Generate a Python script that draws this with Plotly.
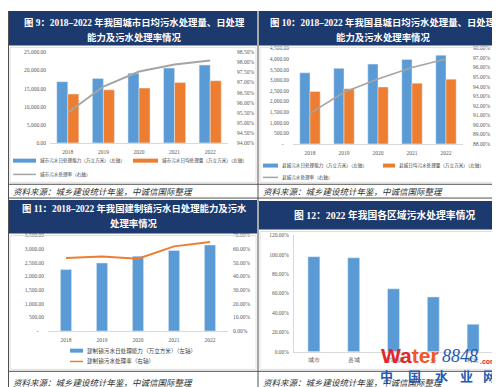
import plotly.graph_objects as go

# ---------------- data ----------------
years = ["2018", "2019", "2020", "2021", "2022"]

city_capacity = [16900, 17800, 19250, 20650, 21500]   # 城市污水日处理能力（万立方米）
city_treat = [13500, 14650, 15150, 16650, 17150]      # 城市污水日均处理量（万立方米）
city_rate = [95.5, 96.8, 97.55, 97.9, 98.1]           # 城市污水处理率 %

county_capacity = [3350, 3560, 3760, 3980, 4180]      # 县城污水日处理能力
county_treat = [2470, 2600, 2680, 2860, 3050]         # 县城日均污水处理量
county_rate = [91.2, 93.4, 94.8, 96.0, 96.9]          # 县城污水处理率 %

town_capacity = [2250, 2490, 2740, 2950, 3150]        # 建制镇污水日处理能力
town_rate = [53.5, 54.5, 52.9, 62.0, 65.2]            # 建制镇污水处理率 %

regions = ["城市", "县城", "建制镇", "乡", "村庄"]
region_rate = [98.1, 96.9, 64.9, 56.5, 28.3]          # 2022 各区域污水处理率 %

titles = [
    ["图 9：2018–2022 年我国城市日均污水处理量、日处理", "能力及污水处理率情况"],
    ["图 10：2018–2022 年我国县城日均污水处理量、日处理", "能力及污水处理率情况"],
    ["图 11：2018–2022 年我国建制镇污水日处理能力及污水", "处理率情况"],
    ["图 12：2022 年我国各区域污水处理率情况"],
]
source_text = "资料来源：城乡建设统计年鉴，中诚信国际整理"
legend1 = ["城市污水日处理能力（万立方米）（左轴）", "城市污水日均处理量（万立方米）（左轴）", "城市污水处理率（右轴）"]
legend2 = ["县城污水日处理能力（万立方米）（左轴）", "县城日均污水处理量（万立方米）（左轴）", "县城污水处理率（右轴）"]
legend3 = ["建制镇污水日处理能力（万立方米）（左轴）", "建制镇污水处理率（右轴）"]

# ---------------- helpers ----------------
W, H = 500, 387
def px(x): return x / W
def py(y): return 1 - y / H

BLUE = "#5B9BD5"; ORANGE = "#ED7D31"; GRAY = "#A5A5A5"; NAVY = "#1d3a6e"
TICKFONT = dict(family="Liberation Serif", size=5.5, color="#595959")
CJK = "Liberation Serif, Noto Sans CJK SC"

fig = go.Figure()

# panel 1
fig.add_bar(x=years, y=city_capacity, xaxis="x", yaxis="y", marker_color=BLUE, width=0.31, offset=-0.31)
fig.add_bar(x=years, y=city_treat, xaxis="x", yaxis="y", marker_color=ORANGE, width=0.31, offset=0)
fig.add_scatter(x=years, y=city_rate, xaxis="x", yaxis="y2", mode="lines", line=dict(color=GRAY, width=2))
# panel 2
fig.add_bar(x=years, y=county_capacity, xaxis="x2", yaxis="y3", marker_color=BLUE, width=0.3, offset=-0.3)
fig.add_bar(x=years, y=county_treat, xaxis="x2", yaxis="y3", marker_color=ORANGE, width=0.3, offset=0)
fig.add_scatter(x=years, y=county_rate, xaxis="x2", yaxis="y4", mode="lines", line=dict(color=GRAY, width=1.6))
# panel 3
fig.add_bar(x=years, y=town_capacity, xaxis="x3", yaxis="y5", marker_color=BLUE, width=0.31, offset=-0.155)
fig.add_scatter(x=years, y=town_rate, xaxis="x3", yaxis="y6", mode="lines", line=dict(color=ORANGE, width=2))
# panel 4
fig.add_bar(x=regions, y=region_rate, xaxis="x4", yaxis="y7", marker_color=BLUE, width=0.3, offset=-0.15)

for tr in fig.data:
    tr.showlegend = False
    tr.hoverinfo = "skip"

def xax(domain, anchor):
    return dict(domain=[px(domain[0]), px(domain[1])], anchor=anchor, type="category",
                range=[-0.5, 4.5], showgrid=False, zeroline=False, showline=True,
                linecolor="#d9d9d9", linewidth=1, ticks="", tickfont=TICKFONT,
                ticklabelstandoff=3, fixedrange=True)

def yax(domain, anchor, rng, dtick, fmt=None, suffix="", side="left", overlay=None,
        dash_zero=False, showline=False, standoff=3):
    d = dict(anchor=anchor, range=rng, dtick=dtick, showgrid=False, zeroline=False,
             ticks="", tickfont=TICKFONT, side=side, showline=showline,
             linecolor="#d9d9d9", ticklabelstandoff=standoff, fixedrange=True)
    if overlay:
        d["overlaying"] = overlay
    else:
        d["domain"] = [py(domain[0]), py(domain[1])]
    if fmt:
        d["tickformat"] = fmt
    if suffix:
        d["ticksuffix"] = suffix
    if dash_zero:
        vals = [rng[0] + i * dtick for i in range(int(round((rng[1] - rng[0]) / dtick)) + 1)]
        d["tickmode"] = "array"
        d["tickvals"] = vals
        d["ticktext"] = ["-    "] + [f"{v:,.2f}" for v in vals[1:]]
    return d

layout = dict(
    width=W, height=H, margin=dict(l=0, r=0, t=0, b=0),
    paper_bgcolor="white", plot_bgcolor="white", showlegend=False,
    barmode="overlay",
    xaxis=xax((42, 220), "y"),
    yaxis=yax((134, 42), "x", [0, 25000], 5000, fmt=",.2f"),
    yaxis2=yax(None, "x", [94, 98.5], 0.5, fmt=".2f", suffix="%", side="right", overlay="y", standoff=8),
    xaxis2=xax((285, 455), "y3"),
    yaxis3=yax((135, 38), "x2", [0, 4500], 500, dash_zero=True),
    yaxis4=yax(None, "x2", [88, 98], 1, fmt=".2f", suffix="%", side="right", overlay="y3", standoff=9),
    xaxis3=xax((40, 220), "y5"),
    yaxis5=yax((325, 228), "x3", [0, 3500], 500, dash_zero=True),
    yaxis6=yax(None, "x3", [0, 70], 10, fmt=".2f", suffix="%", side="right", overlay="y5", standoff=4),
    xaxis4=xax((286, 485), "y7"),
    yaxis7=yax((346, 228), "x4", [0, 120], 20, fmt=".2f", suffix="%", showline=True),
)
fig.update_layout(**layout)

shapes = []
annotations = []

def rect(x0, y0, x1, y1, fill=None, line=None, lw=1):
    shapes.append(dict(type="rect", xref="paper", yref="paper", x0=px(x0), x1=px(x1),
                       y0=py(y1), y1=py(y0), fillcolor=fill or "rgba(0,0,0,0)",
                       line=dict(color=line or "rgba(0,0,0,0)", width=lw if line else 0),
                       layer="above"))

def hline(x0, x1, y, color, w=1):
    shapes.append(dict(type="line", xref="paper", yref="paper", x0=px(x0), x1=px(x1),
                       y0=py(y), y1=py(y), line=dict(color=color, width=w), layer="above"))

def vline(x, y0, y1, color, w=1):
    shapes.append(dict(type="line", xref="paper", yref="paper", x0=px(x), x1=px(x),
                       y0=py(y0), y1=py(y1), line=dict(color=color, width=w), layer="above"))

def text(x, y, t, size, color="#404040", anchor="left", family=CJK, bold=False, italic=False):
    annotations.append(dict(xref="paper", yref="paper", x=px(x), y=py(y), text=t,
                            showarrow=False, xanchor=anchor, yanchor="middle",
                            font=dict(size=size, color=color, family=family,
                                      weight="bold" if bold else "normal",
                                      style="italic" if italic else "normal")))

# headers
HF = 9.4
rect(0, 0, 249, 35, fill=NAVY)
rect(251, 0, 500, 35, fill=NAVY)
rect(0, 192, 249, 226, fill=NAVY)
rect(251, 193, 500, 222, fill=NAVY)
text(126, 12, titles[0][0], HF, "white", "center", bold=True)
text(126, 27, titles[0][1], HF, "white", "center", bold=True)
text(375, 12, titles[1][0], HF, "white", "center", bold=True)
text(375, 27, titles[1][1], HF, "white", "center", bold=True)
text(126, 201, titles[2][0], HF, "white", "center", bold=True)
text(126, 216, titles[2][1], HF, "white", "center", bold=True)
text(376, 207, titles[3][0], 9.8, "white", "center", bold=True)

# chart frames (light)
rect(2, 37, 248, 174, line="#e0e0e0")
rect(252, 37, 498, 174, line="#e0e0e0")
rect(2, 228, 248, 364, line="#e0e0e0")
rect(252, 224, 498, 364, line="#e0e0e0")

# table lines
for y in (176, 190, 366, 386):
    hline(0, 500, y, "#505050", 1)
vline(0.5, 0, 387, "#505050")
vline(250, 0, 387, "#505050")
vline(499.5, 0, 387, "#505050")

# source lines
for (x, y) in ((3, 183), (253, 183), (3, 377), (253, 377)):
    text(x, y, source_text, 8.5, "#303030", "left", family="Noto Sans CJK SC", italic=True)

LF = 4.6
# legend panel 1
hline(5, 28, 152, BLUE, 4); text(30, 152, legend1[0], LF)
hline(125, 150, 152, ORANGE, 4); text(152, 152, legend1[1], LF)
hline(5, 28, 166, GRAY, 1.5); text(30, 166, legend1[2], LF)
# legend panel 2
hline(255, 270, 157, BLUE, 4); text(272, 157, legend2[0], LF)
hline(375, 387, 157, ORANGE, 4); text(389, 157, legend2[1], LF)
hline(255, 270, 169, GRAY, 1.5); text(272, 169, legend2[2], LF)
# legend panel 3
hline(62, 75, 345, BLUE, 4); text(77, 345, legend3[0], 5.6)
hline(62, 75, 356, ORANGE, 1.5); text(77, 356, legend3[1], 5.6)

# watermark
annotations.append(dict(xref="paper", yref="paper", x=px(371), y=py(350), xanchor="left", yanchor="middle",
                        showarrow=False,
                        text='<span style="color:#e4262b">Wa</span><span style="color:#f0562a">ter</span>',
                        font=dict(family="Liberation Sans", size=21, weight="bold")))
text(432, 350, "8848", 18, "#1f5bb0", "left", family="Liberation Serif", italic=True)
text(470, 356, ".com", 7, "#e4262b", "left", family="Liberation Sans", bold=True)
for cx, ch in zip((378, 406, 433, 458, 481), "中国水业网"):
    text(cx, 370, ch, 13, "#1f5bb0", "center", family="Noto Sans CJK SC", bold=True)

fig.update_layout(shapes=shapes, annotations=annotations)
fig.write_html("out.html", config={"displayModeBar": False})
